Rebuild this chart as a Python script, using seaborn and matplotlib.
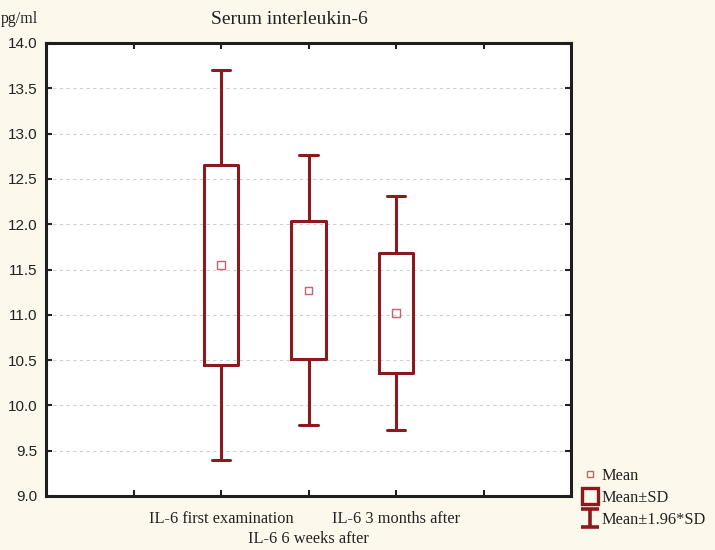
import matplotlib
matplotlib.use("Agg")
import matplotlib.pyplot as plt
import seaborn as sns
import numpy as np
import pandas as pd
from matplotlib.lines import Line2D
from matplotlib.path import Path
from matplotlib.transforms import blended_transform_factory

# values
groups = ["IL-6 first examination", "IL-6 6 weeks after", "IL-6 3 months after"]
means = [11.55, 11.27, 11.02]
sds = [1.10, 0.76, 0.66]
positions = [2, 3, 4]
y_ticks = [9.0, 9.5, 10.0, 10.5, 11.0, 11.5, 12.0, 12.5, 13.0, 13.5, 14.0]

dark_red = "#8b1a1e"
mean_red = "#c0656a"
bg = "#fcf9ec"

sns.set_style("ticks")
plt.rcParams["font.family"] = ["Liberation Serif", "DejaVu Serif"]

df = pd.DataFrame({"group": groups, "mean": means, "sd": sds, "pos": positions})

fig = plt.figure(figsize=(7.15, 5.5), dpi=100, facecolor=bg)
ax = fig.add_axes([46 / 715, 1 - 496 / 550, 525 / 715, 453 / 550])
ax.set_facecolor("white")

# box = mean +- SD, whiskers = mean +- 1.96*SD
stats = []
for m, s in zip(df["mean"], df["sd"]):
    stats.append({"med": m, "q1": m - s, "q3": m + s,
                  "whislo": m - 1.96 * s, "whishi": m + 1.96 * s, "fliers": []})
ax.bxp(stats, positions=df["pos"], widths=0.39, showfliers=False,
       boxprops=dict(color=dark_red, linewidth=2.2),
       whiskerprops=dict(color=dark_red, linewidth=2.2),
       capprops=dict(color=dark_red, linewidth=2.2),
       medianprops=dict(linewidth=0), capwidths=0.21,
       manage_ticks=False)

sns.scatterplot(data=df, x="pos", y="mean", ax=ax, marker="s", s=28,
                facecolor="none", edgecolor=mean_red, linewidth=1.0,
                zorder=5, legend=False)

ax.set_xlim(0, 6)
ax.set_ylim(9.0, 14.0)
ax.set_yticks(y_ticks)
ax.set_yticklabels([f"{v:.1f}" for v in y_ticks], family=["Liberation Sans", "DejaVu Sans"],
                   fontsize=11, color="#222222")
ax.set_xticks([1, 2, 3, 4, 5])
ax.set_xticklabels(["", groups[0], "", groups[2], ""], fontsize=11.8, color="#222222")
ax.tick_params(axis="both", direction="in", length=4, width=1.5, color="#222222",
               top=True, right=True, pad=6)
ax.tick_params(axis="x", pad=11, length=4)
# middle label sits one line lower
trans = blended_transform_factory(ax.transData, fig.transFigure)
ax.text(3, 1 - 539 / 550, groups[1], transform=trans, ha="center", va="center",
        fontsize=11.8, color="#222222")

for spine in ax.spines.values():
    spine.set_linewidth(2.2)
    spine.set_color("#1e1e1e")
ax.yaxis.grid(True, linestyle=(0, (3, 3)), color="#cfcfcf", linewidth=0.8)
ax.set_axisbelow(True)
ax.set_xlabel("")
ax.set_ylabel("")

fig.text(289 / 715, 1 - 19 / 550, "Serum interleukin-6", ha="center", va="center",
         fontsize=14, color="#222222")
fig.text(1 / 715, 1 - 19 / 550, "pg/ml", ha="left", va="center", fontsize=11.5,
         color="#222222")

# legend
ibar = Path([(-1, 1), (1, 1), (0, 1), (0, -1), (-1, -1), (1, -1)],
            [Path.MOVETO, Path.LINETO, Path.MOVETO, Path.LINETO, Path.MOVETO, Path.LINETO])
handles = [
    Line2D([], [], linestyle="none", marker="s", markersize=5, markerfacecolor="none",
           markeredgecolor=mean_red, markeredgewidth=1.0),
    Line2D([], [], linestyle="none", marker="s", markersize=11, markerfacecolor="none",
           markeredgecolor=dark_red, markeredgewidth=2.4),
    Line2D([], [], linestyle="none", marker=ibar, markersize=12.5, markeredgecolor=dark_red,
           markeredgewidth=2.6),
]
fig.legend(handles, ["Mean", "Mean\u00b1SD", "Mean\u00b11.96*SD"], loc="lower left",
           bbox_to_anchor=(570 / 715, 11 / 550), frameon=False, fontsize=11.8,
           handlelength=1.0, handletextpad=0.2, labelspacing=0.35, borderpad=0.2,
           labelcolor="#222222")

fig.savefig("out.png", dpi=100, facecolor=bg)
